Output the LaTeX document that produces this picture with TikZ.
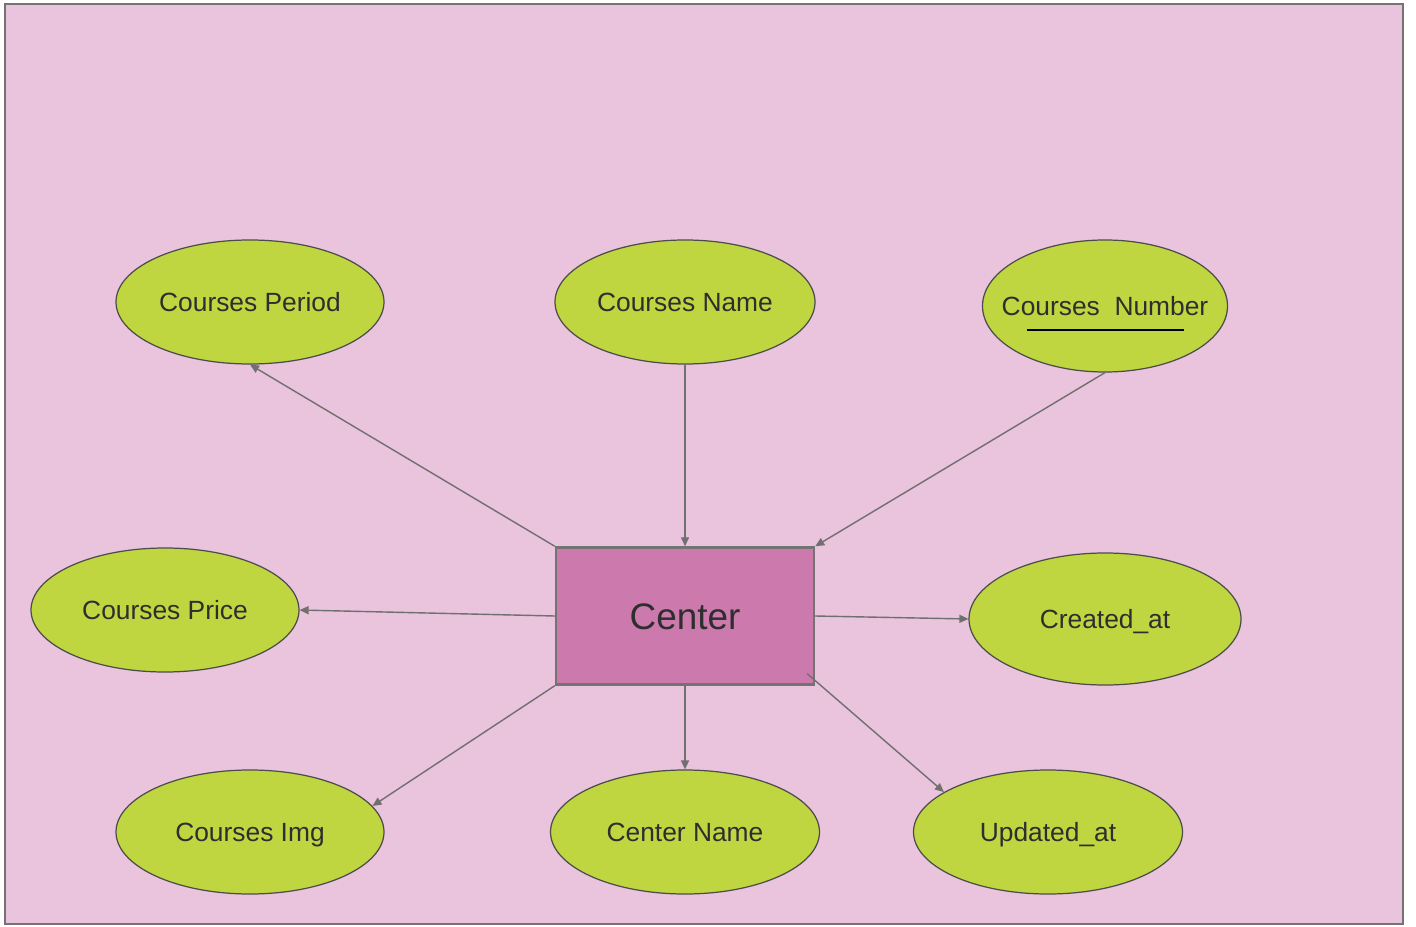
\documentclass[tikz,border=0pt]{standalone}
\usepackage{fontspec}
\setmainfont{Liberation Sans}
\usepackage{xcolor}
\usepackage{tikz}
\usetikzlibrary{shapes,arrows.meta,positioning}

\definecolor{bgpink}{HTML}{EAC3DC}
\definecolor{attrgreen}{HTML}{BFD641}
\definecolor{entitypink}{HTML}{CC7AAD}
\definecolor{linegray}{HTML}{707070}
\definecolor{textdark}{HTML}{2E2E2E}

\begin{document}
\begin{tikzpicture}[
    attr/.style={ellipse, draw=black!70, line width=0.7pt, fill=attrgreen, inner sep=0pt,
        minimum width=5.36cm, minimum height=2.48cm, text=textdark, text height=10.7pt, text depth=0pt,
        font=\fontsize{15}{18}\selectfont},
    entity/.style={rectangle, draw=black!55, line width=1.4pt, fill=entitypink, inner sep=0pt,
        minimum width=5.16cm, minimum height=2.74cm, text=textdark, text height=15pt, text depth=0pt,
        font=\fontsize{21}{25}\selectfont},
    link/.style={draw=linegray, line width=0.8pt, -{Triangle[length=1.8mm,width=1.6mm]}}
]
    % Background
    \useasboundingbox (0,0) rectangle (28.32,18.52);
    \draw[fill=bgpink, draw=black!55, line width=1.4pt] (0.1,0.04) rectangle (28.06,18.44);

    % Entity
    \node[entity] (center) at (13.7,6.2) {Center};

    % Attributes
    \node[attr] (period) at (5.0,12.48) {Courses Period};
    \node[attr, minimum width=5.2cm] (name) at (13.7,12.48) {Courses Name};
    \node[attr, minimum width=4.9cm, minimum height=2.64cm] (number) at (22.1,12.4) {\makebox[0pt]{Courses\ \ Number}};
    \node[attr] (price) at (3.3,6.32) {Courses Price};
    \node[attr, minimum width=5.44cm, minimum height=2.64cm] (created) at (22.1,6.14) {Created\_at};
    \node[attr] (img) at (5.0,1.88) {Courses Img};
    \node[attr, minimum width=5.38cm] (cname) at (13.7,1.88) {Center Name};
    \node[attr, minimum width=5.38cm] (updated) at (20.96,1.88) {Updated\_at};

    % Key underline
    \draw[black, line width=1.1pt] ([shift={(-1.56,-0.48)}]number.center) -- ([shift={(1.58,-0.48)}]number.center);

    % Links
    \draw[link] (center.north west) -- (period.south);
    \draw[link] (name.south) -- (center.north);
    \draw[link] (number.south) -- (center.north east);
    \draw[link] (center.west) -- (price.east);
    \draw[link] (center.east) -- (created.west);
    \draw[link] (center.south west) -- (img.12);
    \draw[link] (center.south) -- (cname.north);
    \draw[link] ([shift={(-0.16,0.24)}]center.south east) -- (updated.159);
\end{tikzpicture}
\end{document}
